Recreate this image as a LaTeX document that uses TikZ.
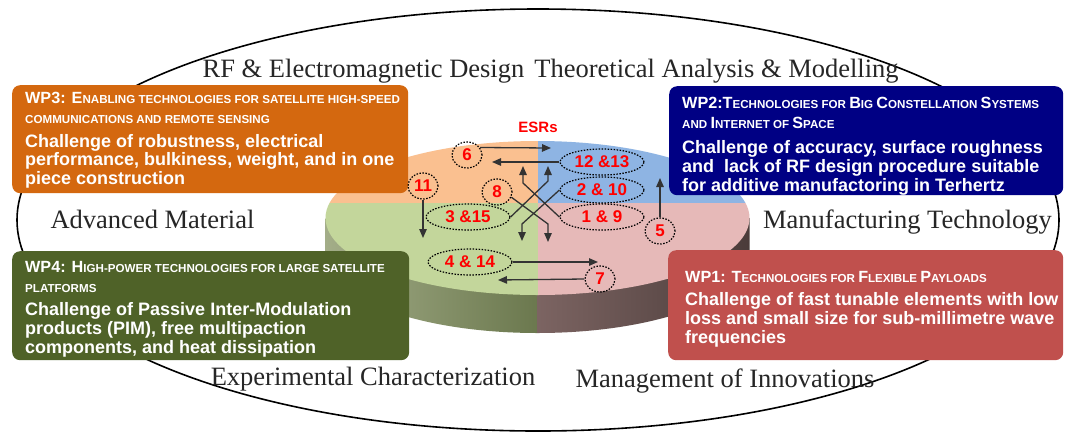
\documentclass[tikz,border=0pt]{standalone}
\usepackage{fontspec}
\setmainfont{Liberation Serif}
\setsansfont{Liberation Sans}
\usetikzlibrary{arrows.meta,shapes.geometric}
\definecolor{wpthree}{HTML}{D4680F}
\definecolor{wptwo}{HTML}{000084}
\definecolor{wpfour}{HTML}{4F6228}
\definecolor{wpone}{HTML}{C0504D}
\definecolor{qor}{HTML}{FAC090}
\definecolor{qbl}{HTML}{8EB4E3}
\definecolor{qgr}{HTML}{C3D69B}
\definecolor{qpk}{HTML}{E6B9B8}
\definecolor{sgl}{HTML}{A3AD88}
\definecolor{sgr}{HTML}{6B784E}
\definecolor{sbl}{HTML}{7C6462}
\definecolor{sbr}{HTML}{4B3C3A}
\definecolor{arrgray}{HTML}{333333}
\newcommand\BC[1]{{\fontsize{16.2pt}{18pt}\selectfont #1}}
\begin{document}
\begin{tikzpicture}[x=1pt,y=-1pt,
  wpbox/.style={rectangle, rounded corners=8pt, inner sep=0pt, anchor=north west},
  wptitle/.style={anchor=base west, inner sep=0pt, text=white, font=\sffamily\bfseries\fontsize{11.6pt}{14pt}\selectfont},
  wpbody/.style={anchor=base west, inner sep=0pt, text=white, font=\sffamily\bfseries\fontsize{18pt}{20pt}\selectfont},
  area/.style={anchor=base, inner sep=0pt, text=black!85, font=\fontsize{26.5pt}{30pt}\selectfont},
  esr/.style={ellipse, draw=black, line width=1.2pt, dash pattern=on 1.5pt off 1.5pt, inner sep=0pt,
     text=red, font=\sffamily\bfseries\fontsize{17pt}{18pt}\selectfont},
  esrs/.style={esr, minimum width=30pt, minimum height=26pt},
  esrw/.style={esr, minimum width=84pt, minimum height=26pt},
  arr/.style={draw=arrgray, line width=1.3pt, -{Triangle[length=9pt,width=7.5pt]}}
]
\useasboundingbox (0,0) rectangle (1067,432);
\fill[white] (0,0) rectangle (1067,432);

% outer ellipse
\draw[line width=1.6pt] (538,220) ellipse [x radius=521pt, y radius=211pt];

% disc side
\shade[left color=sgl, right color=sgr] (325.5,256) arc[start angle=180, end angle=270, x radius=212pt, y radius=77pt] -- (537.5,218) -- (325.5,218) -- cycle;
\shade[left color=sbl, right color=sbr] (537.5,333) arc[start angle=270, end angle=360, x radius=212pt, y radius=77pt] -- (749.5,218) -- (537.5,218) -- cycle;

% disc top
\begin{scope}
\clip (537.5,218) ellipse [x radius=212pt, y radius=77pt];
\fill[qor] (300,100) rectangle (537.5,203);
\fill[qbl] (537.5,100) rectangle (800,203);
\fill[qgr] (300,203) rectangle (537.5,320);
\fill[qpk] (537.5,203) rectangle (800,320);
\end{scope}

% area labels
\node[area] (rf) at (363.5,77) {RF \& Electromagnetic Design};
\node[area] (ta) at (716.5,77) {Theoretical Analysis \& Modelling};
\node[area] (am) at (152.5,228) {Advanced Material};
\node[area] (mt) at (907.5,228) {Manufacturing Technology};
\node[area] (ec) at (373,385) {Experimental Characterization};
\node[area] (mi) at (725,387) {Management of Innovations};

% WP boxes
\node[wpbox, fill=wpthree, minimum width=396pt, minimum height=108pt] (wp3) at (12,85) {};
\node[wpbox, fill=wptwo, minimum width=394pt, minimum height=109pt] (wp2) at (669,86) {};
\node[wpbox, fill=wpfour, minimum width=397pt, minimum height=109pt] (wp4) at (12,251) {};
\node[wpbox, fill=wpone, minimum width=395pt, minimum height=110pt] (wp1) at (668,250) {};

% WP3 text
\node[wptitle] (wp3a) at (25,103) {\BC{WP3: E}NABLING TECHNOLOGIES FOR SATELLITE HIGH-SPEED};
\node[wptitle] (wp3b) at (25,123) {COMMUNICATIONS AND REMOTE SENSING};
\node[wpbody] (wp3c) at (25,147) {Challenge of robustness, electrical};
\node[wpbody] (wp3d) at (25,165.5) {performance, bulkiness, weight, and in one};
\node[wpbody] (wp3e) at (25,184) {piece construction};

% WP2 text
\node[wptitle] (wp2a) at (682,108) {\BC{WP2:T}ECHNOLOGIES FOR \BC{B}IG \BC{C}ONSTELLATION \BC{S}YSTEMS};
\node[wptitle] (wp2b) at (682,128) {AND \BC{I}NTERNET OF \BC{S}PACE};
\node[wpbody] (wp2c) at (682,153) {Challenge of accuracy, surface roughness};
\node[wpbody] (wp2d) at (682,172) {and~ lack of RF design procedure suitable};
\node[wpbody] (wp2e) at (682,191) {for additive manufactoring in Terhertz};

% WP4 text
\node[wptitle] (wp4a) at (25,272) {\BC{WP4: H}IGH-POWER TECHNOLOGIES FOR LARGE SATELLITE};
\node[wptitle] (wp4b) at (25,292) {PLATFORMS};
\node[wpbody] (wp4c) at (25,315) {Challenge of Passive Inter-Modulation};
\node[wpbody] (wp4d) at (25,334) {products (PIM), free multipaction};
\node[wpbody] (wp4e) at (25,353) {components, and heat dissipation};

% WP1 text
\node[wptitle] (wp1a) at (685,282) {\BC{WP1: T}ECHNOLOGIES FOR \BC{F}LEXIBLE \BC{P}AYLOADS};
\node[wpbody] (wp1c) at (685,305) {Challenge of fast tunable elements with low};
\node[wpbody] (wp1d) at (685,324) {loss and small size for sub-millimetre wave};
\node[wpbody] (wp1e) at (685,343) {frequencies};

% ESRs
\node[text=red, font=\sffamily\bfseries\fontsize{15pt}{16pt}\selectfont] (esrt) at (538,127) {ESRs};
\node[esrs] (e6) at (467,155) {6};
\node[esrw] (e12) at (602,162) {12 \&13};
\node[esrw] (e210) at (602,190) {2 \& 10};
\node[esrw] (e19) at (602,217) {1 \& 9};
\node[esrs] (e5) at (660,231) {5};
\node[esrs] (e11) at (423,186) {11};
\node[esrs] (e8) at (497,192) {8};
\node[esrw] (e315) at (468,217) {3 \&15};
\node[esrw] (e414) at (470,262) {4 \& 14};
\node[esrs] (e7) at (600,279) {7};

\coordinate (t6) at (551,148);
\coordinate (t12) at (492,162);
\coordinate (b210) at (522,224);
\coordinate (t210) at (522,241);
\coordinate (b19) at (523,183);
\coordinate (t19) at (523,166);
\coordinate (b315) at (548,181);
\coordinate (t315) at (548,166);
\coordinate (b8) at (548,224);
\coordinate (t8) at (548,242);
\coordinate (t11) at (423,238);
\coordinate (t5) at (660,178);
\coordinate (t414) at (598,262);
\coordinate (t7) at (498,280);

\draw[arr] (e6.30) -- (t6);
\draw[arr] (e12.west) -- (t12);
\draw[arr] (e210.west) -- (b210) -- (t210);
\draw[arr] (e19.west) -- (b19) -- (t19);
\draw[arr] (e315.east) -- (b315) -- (t315);
\draw[arr] (e8.-20) -- (b8) -- (t8);
\draw[arr] (e11.south) -- (t11);
\draw[arr] (e5.north) -- (t5);
\draw[arr] (e414.east) -- (t414);
\draw[arr] (e7.west) -- (t7);
\end{tikzpicture}
\end{document}
